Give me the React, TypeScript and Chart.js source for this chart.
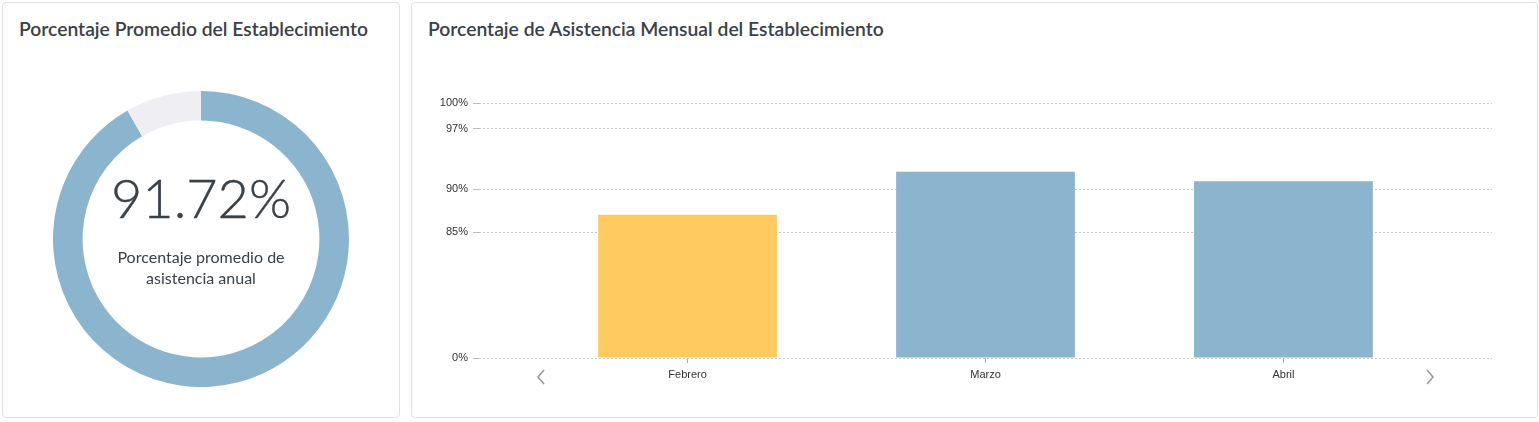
import React, { useEffect, useRef } from 'react';
import { Chart, registerables } from 'chart.js';

Chart.register(...registerables);

// ---- data ----
const annualAverage = 91.72;
const months = ['Febrero', 'Marzo', 'Abril'];
const monthlyValues = [87.0, 92.0, 90.9];
const barColors = ['#ffca60', '#8bb5cf', '#8bb5cf'];
const yTickValues = [0, 85, 90, 97, 100];

// piecewise y scale: values below 85% are compressed
const BREAK = 85;
const LOW_SPAN = 126;
const HIGH_STEP = 8.6;
const toAxis = (v: number) => (v <= BREAK ? (v / BREAK) * LOW_SPAN : LOW_SPAN + (v - BREAK) * HIGH_STEP);

const TEXT = '#3a4147';
const FONT = 'Lato, "Open Sans", sans-serif';
const AXIS_FONT = '"Liberation Sans", Arial, Helvetica, sans-serif';

function Donut() {
  const ref = useRef<HTMLCanvasElement>(null);
  useEffect(() => {
    const chart = new Chart(ref.current!, {
      type: 'doughnut',
      data: {
        labels: ['Asistencia', 'Inasistencia'],
        datasets: [
          {
            data: [annualAverage, 100 - annualAverage],
            backgroundColor: ['#8bb5cf', '#efeff3'],
            borderWidth: 0,
          },
        ],
      },
      options: {
        animation: false,
        responsive: false,
        cutout: '80%',
        plugins: { legend: { display: false }, tooltip: { enabled: false } },
      },
    });
    return () => chart.destroy();
  }, []);
  return (
    <canvas
      ref={ref}
      width={296}
      height={296}
      style={{ position: 'absolute', left: 50, top: 88, width: 296, height: 296 }}
    />
  );
}

function Bars() {
  const ref = useRef<HTMLCanvasElement>(null);
  useEffect(() => {
    const chart = new Chart(ref.current!, {
      type: 'bar',
      data: {
        datasets: [
          {
            data: monthlyValues.map((v, i) => ({ x: i, y: toAxis(v) })),
            backgroundColor: barColors,
            borderWidth: 0,
            categoryPercentage: 0.6,
            barPercentage: 1,
          },
        ],
      },
      options: {
        animation: false,
        responsive: false,
        layout: { padding: { top: 42, right: 28, left: 0, bottom: 0 } },
        plugins: { legend: { display: false }, tooltip: { enabled: false } },
        scales: {
          x: {
            type: 'linear',
            min: -0.7,
            max: 2.7,
            offset: false,
            grid: {
              offset: false,
              drawOnChartArea: false,
              drawTicks: true,
              tickLength: 5,
              tickColor: '#aaaaaa',
            },
            border: { display: false },
            afterBuildTicks: (s: any) => {
              s.ticks = months.map((_, i) => ({ value: i }));
            },
            afterFit: (s: any) => {
              s.height = 43;
            },
            ticks: {
              callback: (v: any) => months[v as number] ?? '',
              padding: 5,
              color: '#333333',
              font: { family: AXIS_FONT, size: 11 },
              maxRotation: 0,
              autoSkip: false,
            },
          },
          y: {
            type: 'linear',
            min: 0,
            max: toAxis(100),
            grid: {
              color: '#c6c6c6',
              tickColor: '#bbbbbb',
              tickLength: 6,
              tickBorderDash: [],
            },
            border: { display: false, dash: [2, 2] },
            afterBuildTicks: (s: any) => {
              s.ticks = yTickValues.map((v) => ({ value: toAxis(v) }));
            },
            afterFit: (s: any) => {
              s.width = 59;
            },
            ticks: {
              callback: (_v: any, i: number) => yTickValues[i] + '%',
              padding: 5,
              color: '#333333',
              font: { family: AXIS_FONT, size: 11 },
            },
          },
        },
      },
    } as any);
    return () => chart.destroy();
  }, []);
  return (
    <canvas
      ref={ref}
      width={1100}
      height={340}
      style={{ position: 'absolute', left: 8, top: 58, width: 1100, height: 340 }}
    />
  );
}

const cardStyle: React.CSSProperties = {
  position: 'absolute',
  top: 2,
  height: 416,
  boxSizing: 'border-box',
  border: '1px solid #e1e1e8',
  borderRadius: 4,
  background: '#fff',
};

const titleStyle: React.CSSProperties = {
  position: 'absolute',
  top: 14,
  left: 16,
  margin: 0,
  fontFamily: FONT,
  fontWeight: 600,
  fontSize: 19.3,
  color: TEXT,
  whiteSpace: 'nowrap',
};

function Chevron({ left, dir }: { left: number; dir: 'l' | 'r' }) {
  return (
    <svg
      width={10}
      height={16}
      style={{ position: 'absolute', left, top: 366 }}
      viewBox="0 0 10 16"
    >
      <polyline
        points={dir === 'l' ? '8,1 2,8 8,15' : '2,1 8,8 2,15'}
        fill="none"
        stroke="#9a9a9a"
        strokeWidth={1.6}
      />
    </svg>
  );
}

export default function App() {
  return (
    <div
      style={{
        position: 'fixed',
        left: 0,
        top: 0,
        width: 1539,
        height: 422,
        background: '#fff',
        fontFamily: FONT,
      }}
    >
      <div style={{ ...cardStyle, left: 2, width: 398 }}>
        <div style={titleStyle}>Porcentaje Promedio del Establecimiento</div>
        <Donut />
        <div
          style={{
            position: 'absolute',
            left: 0,
            width: 396,
            top: 163,
            textAlign: 'center',
            fontFamily: FONT,
            fontWeight: 300,
            fontSize: 54,
            lineHeight: '64px',
            color: TEXT,
            WebkitTextStroke: '0.4px ' + TEXT,
          }}
        >
          {annualAverage.toFixed(2)}%
        </div>
        <div
          style={{
            position: 'absolute',
            left: 0,
            width: 396,
            top: 243,
            textAlign: 'center',
            fontFamily: FONT,
            fontWeight: 400,
            fontSize: 16,
            lineHeight: '21px',
            color: TEXT,
          }}
        >
          Porcentaje promedio de
          <br />
          asistencia anual
        </div>
      </div>
      <div style={{ ...cardStyle, left: 411, width: 1127 }}>
        <div style={titleStyle}>Porcentaje de Asistencia Mensual del Establecimiento</div>
        <Bars />
        <Chevron left={124} dir="l" />
        <Chevron left={1013} dir="r" />
      </div>
    </div>
  );
}
